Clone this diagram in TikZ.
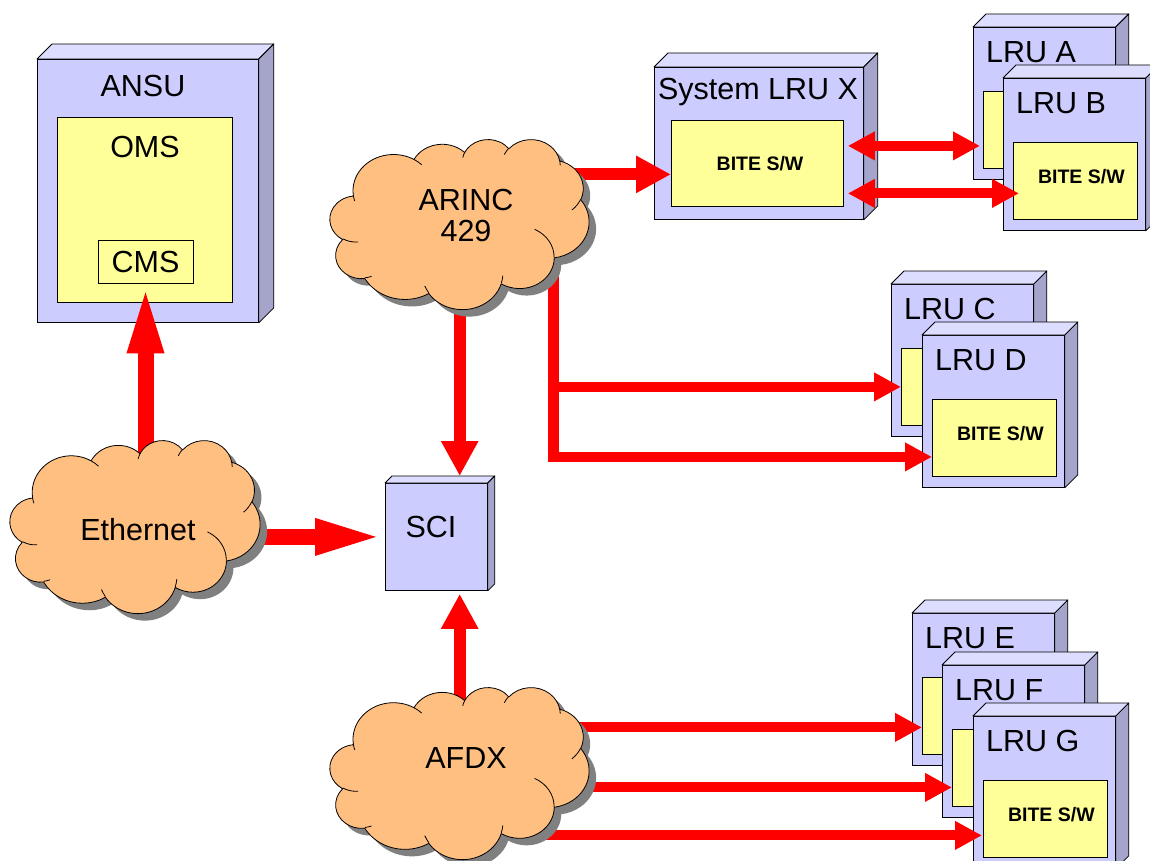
\documentclass[tikz,border=0pt]{standalone}
\usepackage{fontspec}
\setmainfont{Liberation Sans}
\usetikzlibrary{arrows.meta,calc}

\definecolor{boxfront}{HTML}{CCCCFF}
\definecolor{boxtop}{HTML}{DDDDFF}
\definecolor{boxside}{HTML}{A5A5CC}
\definecolor{swfill}{HTML}{FFFF99}
\definecolor{cloudfill}{HTML}{FFBF80}
\definecolor{linkred}{HTML}{FF0000}

\pgfdeclarelayer{links}
\pgfdeclarelayer{nets}
\pgfsetlayers{main,links,nets}

\tikzset{
  front/.style={draw=black, line width=0.8pt, fill=boxfront, rectangle, inner sep=0pt, anchor=north west},
  topface/.style={draw=black, line width=0.8pt, fill=boxtop, line join=round},
  sideface/.style={draw=black, line width=0.8pt, fill=boxside, line join=round},
  swbox/.style={draw=black, line width=0.8pt, fill=swfill, rectangle, inner sep=0pt, anchor=north west},
  lbl/.style={font=\fontsize{30.5}{31}\selectfont, inner sep=0pt},
  bite/.style={font=\fontsize{19.5}{22}\selectfont\bfseries, inner sep=0pt},
  cloudbody/.style={draw=black, line width=0.8pt, fill=cloudfill, line join=round},
  cloudshadow/.style={fill=black!50},
  cloudline/.style={draw=black, line width=0.8pt},
  heavy/.style={draw=linkred, line width=16pt, -{Triangle[length=70pt,width=32pt]}},
  medium/.style={draw=linkred, line width=12pt, -{Triangle[length=35pt,width=35pt]}},
  light/.style={draw=linkred, line width=10pt, -{Triangle[length=27pt,width=27pt]}},
  duplex/.style={draw=linkred, line width=10pt,
    {Triangle[length=27pt,width=27pt]}-{Triangle[length=27pt,width=27pt]}},
  bus/.style={draw=linkred, line width=11pt},
}

% a box drawn as a front face with a top and a right side face
% #1 name, #2 x, #3 y of the front top-left corner, #4 width, #5 height, #6 depth
\newcommand\unitbox[6]{%
  \node[front, minimum width=#4pt, minimum height=#5pt] (#1) at (#2,#3) {};
  \draw[topface] (#1.north west) -- ++(#6,-#6) -- ([shift={(#6,-#6)}]#1.north east)
    -- (#1.north east) -- cycle;
  \draw[sideface] (#1.north east) -- ([shift={(#6,-#6)}]#1.north east)
    -- ([shift={(#6,-#6)}]#1.south east) -- (#1.south east) -- cycle;
}

% a line replaceable unit with its software area
% #1 name, #2 x, #3 y, #4 title, #5 software text
\newcommand\lru[5]{%
  \unitbox{#1}{#2}{#3}{142}{152}{13}
  \node[swbox, minimum width=124pt, minimum height=77pt] (#1sw) at ([shift={(10,64)}]#1.north west) {};
  \node[bite] at ([shift={(6,-4)}]#1sw.center) {#5};
  \node[lbl, anchor=west] at ([shift={(13,25)}]#1.north west) {#4};
}

% elliptic arc: radii, start angle and sweep measured on screen with y pointing down
\newcommand\oarc[4]{arc[x radius=#1pt, y radius=#2pt,
  start angle={-atan2(#1*sin(#3),#2*cos(#3))},
  delta angle={-mod(atan2(#1*sin(#3+#4),#2*cos(#3+#4))-atan2(#1*sin(#3),#2*cos(#3))+720,360)}]}

% cloud outline in a 43.2 x 43.2 frame
\newcommand\cloudpath{(3.9,14.37)
  \oarc{6.753}{9.19}{-190.48748}{123.78053}
  \oarc{5.333}{7.267}{-144.10238}{89.94523}
  \oarc{4.365}{5.945}{-145.80792}{99.72302}
  \oarc{4.857}{6.595}{-130.98607}{117.24173}
  \oarc{5.333}{7.273}{-78.70888}{109.02692}
  \oarc{6.775}{9.22}{-46.26725}{130.269}
  \oarc{5.785}{7.867}{0.62502}{114.03333}
  \oarc{6.752}{9.215}{22.4516}{115.17255}
  \oarc{7.72}{10.543}{66.24263}{75.71102}
  \oarc{4.36}{5.918}{-274.94208}{146.73557}
  \oarc{4.345}{5.945}{-246.8285}{152.52262} -- cycle}

% the small inner strokes of the cloud
\newcommand\cloudcurls{
  (4.693,26.177) \oarc{4.345}{5.945}{86.742}{26.4295}
  (6.928,34.899) \oarc{4.36}{5.918}{73.61047}{11.44747}
  (16.478,39.09) \oarc{6.752}{9.215}{137.62415}{14.0811}
  (28.827,34.751) \oarc{6.752}{9.215}{6.45327}{15.99835}
  (34.129,22.954) \oarc{5.785}{7.867}{-70.29235}{70.91737}
  (41.798,15.354) \oarc{5.333}{7.273}{30.31803}{27.7515}
  (38.324,5.426) \oarc{4.857}{6.595}{-13.74433}{14.86608}
  (29.078,3.952) \oarc{4.857}{6.595}{-149.18145}{18.19537}
  (22.141,4.72) \oarc{4.365}{5.945}{-163.49427}{17.68635}
  (14,5.192) \oarc{6.753}{9.19}{-66.70695}{12.31935}
  (4.127,15.789) \oarc{6.753}{9.19}{156.62222}{13.35365}}

% a network cloud with its shadow: #1 name, #2 x, #3 y (top left), #4 width, #5 height
\newcommand\netcloud[5]{%
  \node[inner sep=0pt, minimum width=#4pt, minimum height=#5pt, anchor=north west] (#1) at (#2,#3) {};
  \begin{scope}[shift={(#2+7,#3+7)}, xscale=#4/43.2, yscale=#5/43.2]
    \fill[cloudshadow] \cloudpath;
  \end{scope}
  \begin{scope}[shift={(#2,#3)}, xscale=#4/43.2, yscale=#5/43.2]
    \filldraw[cloudbody] \cloudpath;
    \draw[cloudline] \cloudcurls;
  \end{scope}
}

\begin{document}
\begin{tikzpicture}[x=1pt,y=-1pt]
\useasboundingbox (0,0) rectangle (1150,861);
\clip (0,0) rectangle (1150,861);

% ANSU with OMS and CMS
\unitbox{ansu}{37}{59}{221}{263}{15}
\node[lbl] at (143,86) {ANSU};
\node[swbox, minimum width=175pt, minimum height=185pt] (oms) at (57,117) {};
\node[lbl] at (145,147) {OMS};
\node[swbox, line width=0.7pt, minimum width=95pt, minimum height=43pt, anchor=center,
      font=\fontsize{30.5}{31}\selectfont] (cms) at (145.5,261.5) {CMS};

% SCI
\unitbox{sci}{385}{483}{102}{107}{7}
\node[lbl] at (431,527) {SCI};

% System LRU X
\unitbox{lrux}{654}{67}{209}{152}{14}
\node[lbl] at (758,92) {System LRU X};
\node[swbox, minimum width=172pt, minimum height=86pt] (lruxsw) at (671,120) {};
\node[bite] at (760,164) {BITE S/W};

% line replaceable units
\lru{lrua}{973}{27}{LRU A}{}
\lru{lrub}{1003}{78}{LRU B}{BITE S/W}
\lru{lruc}{891}{284}{LRU C}{}
\lru{lrud}{922}{335}{LRU D}{BITE S/W}
\lru{lrue}{912}{613}{LRU E}{}
\lru{lruf}{942}{665}{LRU F}{}
\lru{lrug}{973}{716}{LRU G}{BITE S/W}

% networks
\begin{pgfonlayer}{nets}
\netcloud{arinc}{330}{139}{259}{170}
\node[lbl, align=center] at (466,216) {ARINC\\429};
\netcloud{eth}{10}{440}{250}{173}
\node[lbl] at (138,530) {Ethernet};
\netcloud{afdx}{330}{687}{259}{172}
\node[lbl] at (466,758) {AFDX};
\end{pgfonlayer}

% connections
\begin{pgfonlayer}{links}
\draw[heavy] (cms.south |- eth.center) -- (cms.south);
\draw[heavy] (eth.center |- sci.west) -- (sci.west);
\draw[medium] (arinc.center) -- ([yshift=7pt]arinc.center |- sci.north);
\draw[medium] (afdx.center) -- ([yshift=-3pt]afdx.center |- sci.south);

\coordinate (xin) at ($(lruxsw.west)+(0,11)$);
\draw[medium] (arinc.center |- xin) -- (xin);

\coordinate (aend) at ($(lruasw.west)+(-3,16)$);
\coordinate (bend) at ($(lrubsw.west)+(6,12.5)$);
\draw[duplex] ([xshift=4pt]lruxsw.east |- aend) -- (aend);
\draw[duplex] ([xshift=4pt]lruxsw.east |- bend) -- (bend);

\coordinate (cin) at (lrucsw.west);
\coordinate (din) at ($(lrudsw.west)+(0,19)$);
\coordinate (busbot) at ($(553,0)!(din)!(553,1)$);
\draw[bus] (arinc.center -| busbot) -- ([yshift=-5pt]busbot);
\draw[light] (busbot |- cin) -- (cin);
\draw[light] (busbot |- din) -- (din);

\coordinate (ein) at ($(lruesw.west)+(0,11.5)$);
\coordinate (fin) at ($(lrufsw.west)+(0,19.5)$);
\coordinate (gin) at ($(lrugsw.west)+(-1,16.5)$);
\draw[light] (afdx.center |- ein) -- (ein);
\draw[light] (afdx.center |- fin) -- (fin);
\draw[light] (afdx.center |- gin) -- (gin);
\end{pgfonlayer}
\end{tikzpicture}
\end{document}
